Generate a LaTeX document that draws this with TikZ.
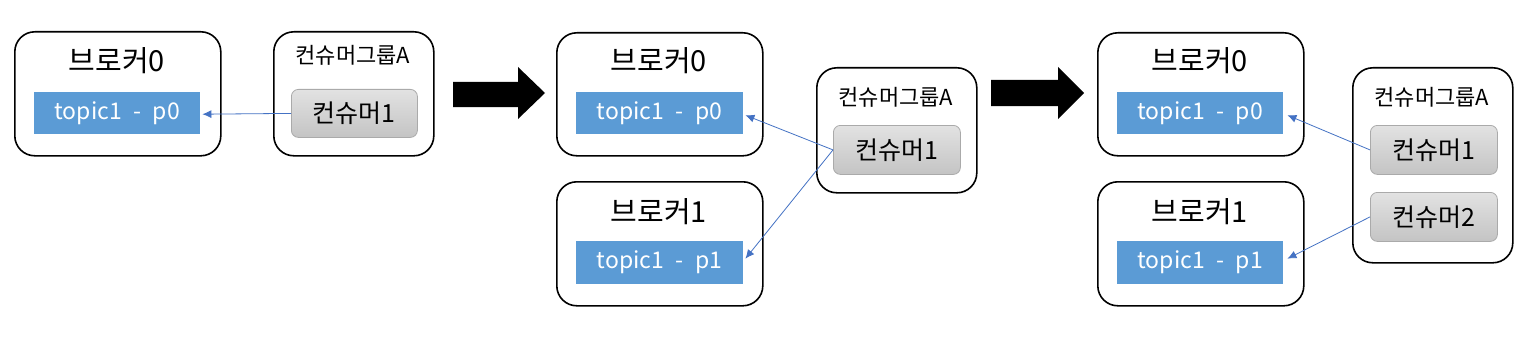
\documentclass[tikz,border=0pt]{standalone}
\usepackage{fontspec}
\setmainfont{Noto Sans CJK KR}
\usetikzlibrary{arrows.meta,calc}
\definecolor{topicblue}{RGB}{91,155,213}
\definecolor{linkblue}{RGB}{68,114,196}
\definecolor{cgtop}{RGB}{226,226,226}
\definecolor{cgbot}{RGB}{196,196,196}
\definecolor{cgborder}{RGB}{170,170,170}
\tikzset{
  boxbase/.style={draw=black, line width=1.6pt, rounded corners=20pt, fill=white, anchor=north west, inner sep=0pt},
  topicbar/.style={fill=topicblue, text=white, anchor=north west, inner sep=0pt, font=\fontsize{23}{27}\selectfont},
  consumerbox/.style={draw=cgborder, line width=0.8pt, rounded corners=7pt, top color=cgtop, bottom color=cgbot, anchor=north west, inner sep=0pt, font=\fontsize{25}{30}\selectfont},
  brokertitle/.style={font=\fontsize{29}{34}\selectfont, inner sep=0pt},
  grouptitle/.style={font=\fontsize{22}{26}\selectfont, inner sep=0pt},
  link/.style={draw=linkblue, line width=0.8pt, -{Latex[length=9pt,width=8pt]}},
  bigarrow/.style={fill=black, draw=none}
}
\begin{document}
\begin{tikzpicture}[x=1pt,y=-1pt]
\useasboundingbox[fill=white] (0,0) rectangle (1540,345);

% ---------- panel 1 ----------
\node[boxbase, minimum width=206pt, minimum height=124pt] (b0a) at (14,31) {};
\node[brokertitle] (b0at) at (117,61) {브로커0};
\node[topicbar, minimum width=166pt, minimum height=42pt] (p0a) at (34,92) {topic1 \;-\; p0};
\node[boxbase, minimum width=160pt, minimum height=124pt] (ga) at (273,31) {};
\node[grouptitle] (gat) at (353,55) {컨슈머그룹A};
\node[consumerbox, minimum width=126pt, minimum height=48pt] (c1a) at (291,89) {컨슈머1};
\draw[link] (c1a.west) -- ($(p0a.east)+(2,1)$);

\fill[bigarrow] (453,82) -- (518,82) -- (518,67) -- (545,93) -- (518,119) -- (518,107) -- (453,107) -- cycle;

% ---------- panel 2 ----------
\node[boxbase, minimum width=206pt, minimum height=123pt] (b0b) at (556,32) {};
\node[brokertitle] (b0bt) at (659,61) {브로커0};
\node[topicbar, minimum width=167pt, minimum height=42pt] (p0b) at (576,92) {topic1 \;-\; p0};
\node[boxbase, minimum width=206pt, minimum height=124pt] (b1b) at (556,181) {};
\node[brokertitle] (b1bt) at (659,212) {브로커1};
\node[topicbar, minimum width=167pt, minimum height=43pt] (p1b) at (576,241) {topic1 \;-\; p1};
\node[boxbase, minimum width=160pt, minimum height=125pt] (gb) at (816,67) {};
\node[grouptitle] (gbt) at (896,97) {컨슈머그룹A};
\node[consumerbox, minimum width=127pt, minimum height=49pt] (c1b) at (833,125) {컨슈머1};
\draw[link] (c1b.west) -- ($(p0b.east)+(2,2)$);
\draw[link] (c1b.west) -- ($(p1b.east)+(2,-4)$);

\fill[bigarrow] (991,80) -- (1058,80) -- (1058,67) -- (1084,93) -- (1058,119) -- (1058,106) -- (991,106) -- cycle;

% ---------- panel 3 ----------
\node[boxbase, minimum width=206pt, minimum height=123pt] (b0c) at (1097,32) {};
\node[brokertitle] (b0ct) at (1200,61) {브로커0};
\node[topicbar, minimum width=166pt, minimum height=42pt] (p0c) at (1117,92) {topic1 \;-\; p0};
\node[boxbase, minimum width=206pt, minimum height=124pt] (b1c) at (1097,181) {};
\node[brokertitle] (b1ct) at (1200,212) {브로커1};
\node[topicbar, minimum width=166pt, minimum height=43pt] (p1c) at (1117,241) {topic1 \;-\; p1};
\node[boxbase, minimum width=160pt, minimum height=195pt] (gc) at (1352,67) {};
\node[grouptitle] (gct) at (1432,97) {컨슈머그룹A};
\node[consumerbox, minimum width=127pt, minimum height=49pt] (c1c) at (1370,125) {컨슈머1};
\node[consumerbox, minimum width=127pt, minimum height=49pt] (c2c) at (1370,192) {컨슈머2};
\draw[link] (c1c.west) -- ($(p0c.east)+(4,2)$);
\draw[link] (c2c.west) -- ($(p1c.east)+(4,-4)$);
\end{tikzpicture}
\end{document}
